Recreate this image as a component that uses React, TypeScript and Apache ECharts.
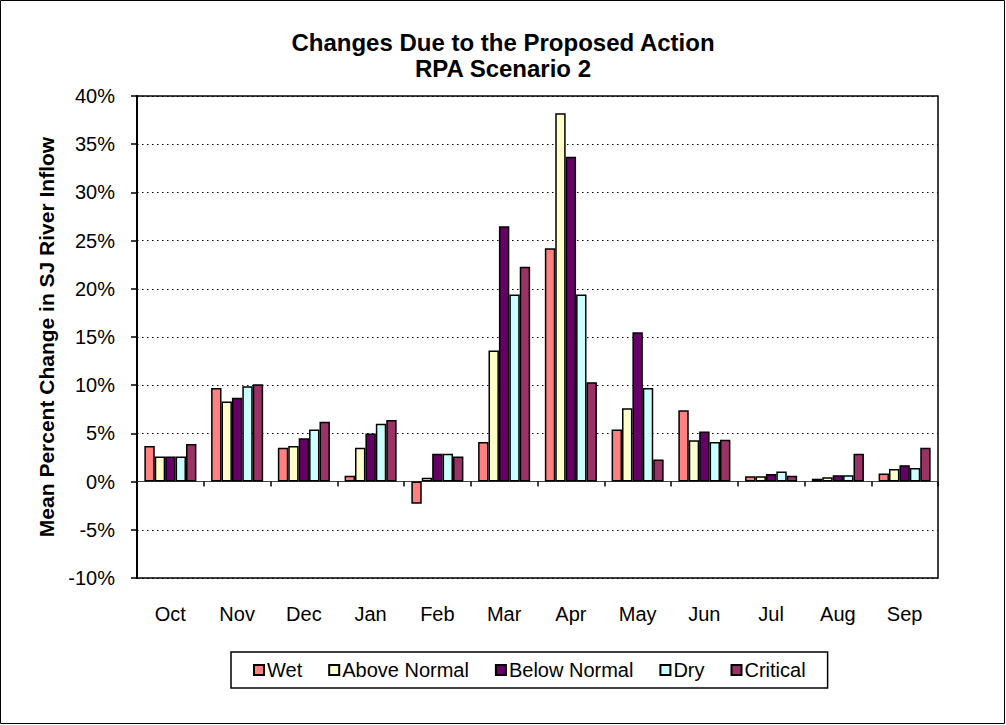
import React, { useEffect, useRef } from "react";
import * as echarts from "echarts";

const months = ["Oct", "Nov", "Dec", "Jan", "Feb", "Mar", "Apr", "May", "Jun", "Jul", "Aug", "Sep"];
const seriesNames = ["Wet", "Above Normal", "Below Normal", "Dry", "Critical"];
const wet = [3.7, 9.7, 3.5, 0.6, -2.3, 4.1, 24.2, 5.4, 7.4, 0.55, 0.3, 0.85];
const aboveNormal = [2.6, 8.3, 3.7, 3.5, 0.4, 13.6, 38.2, 7.6, 4.3, 0.55, 0.45, 1.3];
const belowNormal = [2.6, 8.7, 4.5, 5.0, 2.9, 26.5, 33.7, 15.5, 5.2, 0.8, 0.65, 1.7];
const dry = [2.6, 9.9, 5.4, 6.0, 2.9, 19.4, 19.4, 9.7, 4.1, 1.05, 0.65, 1.4];
const critical = [3.9, 10.1, 6.2, 6.4, 2.6, 22.3, 10.3, 2.3, 4.35, 0.6, 2.9, 3.5];
const colors = ["#FF8080", "#FFFFCC", "#660066", "#CCFFFF", "#993366"];

const FONT = '"Liberation Sans", Arial, sans-serif';

export default function App() {
  const ref = useRef<HTMLDivElement>(null);
  useEffect(() => {
    if (!ref.current) return;
    const chart = echarts.init(ref.current, undefined, { renderer: "svg" });
    const values = [wet, aboveNormal, belowNormal, dry, critical];
    chart.setOption({
      animation: false,
      backgroundColor: "#fff",
      textStyle: { fontFamily: FONT, color: "#000" },
      title: {
        text: "Changes Due to the Proposed Action",
        subtext: "RPA Scenario 2",
        left: "center",
        top: 29,
        padding: 0,
        itemGap: 0,
        textStyle: { fontFamily: FONT, fontSize: 24, fontWeight: "bold", color: "#000", lineHeight: 26 },
        subtextStyle: { fontFamily: FONT, fontSize: 24, fontWeight: "bold", color: "#000", lineHeight: 26 },
      },
      graphic: [
        {
          type: "rect",
          shape: { x: 0.5, y: 0.5, width: 1004, height: 723 },
          style: { fill: "none", stroke: "#000", lineWidth: 1 },
          silent: true,
        },
      ],
      legend: {
        left: 231,
        top: 652,
        padding: [8, 22],
        itemGap: 26,
        itemWidth: 10,
        itemHeight: 10,
        icon: "rect",
        borderColor: "#000",
        borderWidth: 1.5,
        data: seriesNames,
        textStyle: { fontFamily: FONT, fontSize: 20, color: "#000", padding: [0, 0, 0, -2] },
      },
      grid: {
        left: 137,
        right: 68,
        top: 96,
        bottom: 147,
        show: true,
        borderColor: "#000",
        borderWidth: 1.5,
        containLabel: false,
      },
      xAxis: [
        {
          type: "category",
          data: months,
          position: "bottom",
          axisLine: { show: false, onZero: false },
          axisTick: { show: false },
          axisLabel: { fontFamily: FONT, fontSize: 20, color: "#000", margin: 26 },
          splitLine: { show: false },
        },
        {
          type: "category",
          data: months,
          position: "bottom",
          axisLine: { show: true, onZero: true, lineStyle: { color: "#444", width: 1 } },
          axisTick: { show: true, length: 5, lineStyle: { color: "#000", width: 1.5 } },
          axisLabel: { show: false },
          splitLine: { show: false },
        },
      ],
      yAxis: {
        type: "value",
        min: -10,
        max: 40,
        interval: 5,
        name: "Mean Percent Change in SJ River Inflow",
        nameLocation: "middle",
        nameGap: 69,
        nameTextStyle: { fontFamily: FONT, fontSize: 21, fontWeight: "bold", color: "#000" },
        axisLine: { show: true, lineStyle: { color: "#000", width: 2 } },
        axisTick: { show: true, length: 6, lineStyle: { color: "#000", width: 1.5 } },
        axisLabel: { fontFamily: FONT, fontSize: 20, color: "#000", margin: 22, formatter: "{value}%" },
        splitLine: { show: true, lineStyle: { color: "#000", width: 1, type: [1.5, 3.5] } },
      },
      series: seriesNames.map((name, i) => ({
        name,
        type: "bar",
        xAxisIndex: 0,
        data: values[i],
        barGap: "0%",
        barCategoryGap: "22%",
        itemStyle: { color: colors[i], borderColor: "#000", borderWidth: 1.5 },
      })),
    });
    return () => chart.dispose();
  }, []);
  return <div ref={ref} style={{ position: "absolute", left: 0, top: 0, width: 1006, height: 725 }} />;
}
